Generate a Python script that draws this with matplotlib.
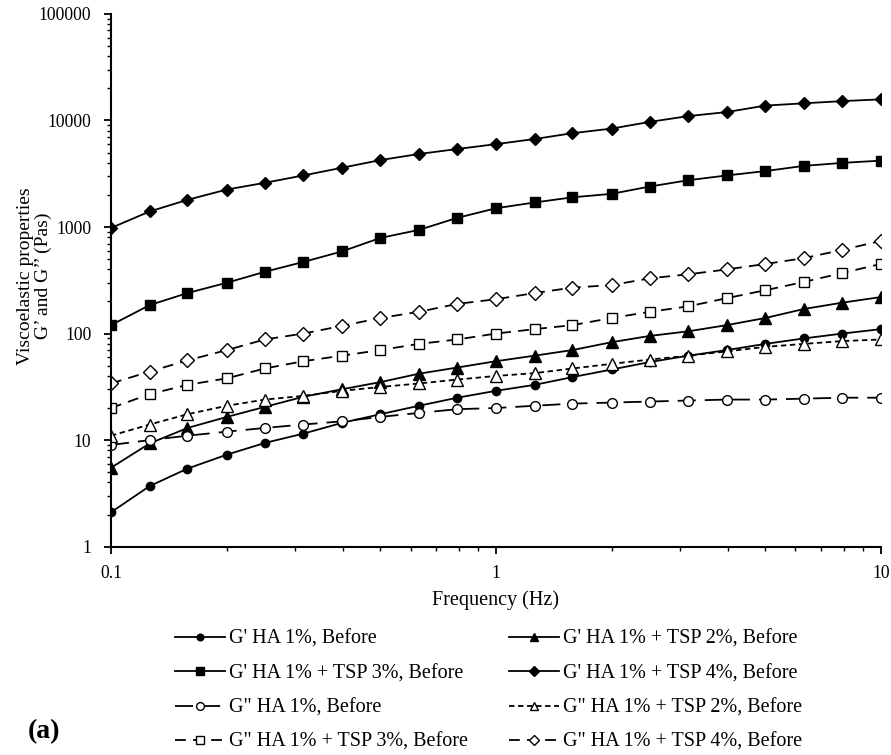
import numpy as np
import matplotlib
matplotlib.use("Agg")
import matplotlib.pyplot as plt
from matplotlib.ticker import LogLocator, FixedLocator, FixedFormatter, NullFormatter

plt.rcParams['font.family'] = ['Liberation Serif', 'DejaVu Serif']

# frequency (Hz)
freq = [0.1, 0.126, 0.158, 0.2, 0.251, 0.316, 0.398, 0.501, 0.631, 0.794,
        1.0, 1.26, 1.58, 2.0, 2.51, 3.16, 3.98, 5.01, 6.31, 7.94, 10.0]

# storage modulus G'
gp_ha1 = [2.1, 3.7, 5.4, 7.3, 9.4, 11.5, 14.5, 17.5, 21, 25,
          29, 33, 39, 46, 54, 62, 70, 80, 90, 100, 110]
gp_tsp2 = [5.5, 9.3, 13, 16.5, 20.5, 25.5, 30, 35, 42, 48,
           55, 62, 70, 83, 95, 105, 120, 140, 170, 195, 220]
gp_tsp3 = [120, 185, 240, 300, 380, 470, 590, 790, 940, 1220,
           1500, 1700, 1900, 2050, 2400, 2750, 3050, 3350, 3750, 4000, 4200]
gp_tsp4 = [980, 1400, 1800, 2250, 2600, 3050, 3600, 4250, 4850, 5400,
           6000, 6700, 7600, 8400, 9700, 11000, 12000, 13800, 14500, 15200, 15800]

# loss modulus G"
gpp_ha1 = [9, 10, 11, 12, 13, 14, 15, 16.5, 18, 19.5,
           20, 21, 22, 22.5, 23, 23.5, 24, 24, 24.5, 25, 25]
gpp_tsp2 = [11, 14, 17.5, 21, 24, 26, 29, 31.5, 34, 37,
            40, 42.5, 47, 52, 57, 62, 68, 75, 80, 85, 88]
gpp_tsp3 = [20, 27, 33, 38, 47, 55, 62, 70, 80, 88,
            100, 110, 120, 140, 160, 180, 215, 255, 305, 370, 450]
gpp_tsp4 = [34, 44, 56, 70, 88, 100, 118, 140, 160, 190,
            210, 240, 270, 285, 330, 360, 400, 450, 510, 610, 740]

fig = plt.figure(figsize=(8.91, 7.55), dpi=100)
ax = fig.add_axes([0.1246, 0.276, 0.864, 0.7055])

k = dict(color='black', lw=1.3)
l1, = ax.plot(freq, gp_ha1, marker='o', ms=6, mfc='black', ls='-', label="G' HA 1%, Before", **k)
l2, = ax.plot(freq, gp_tsp2, marker='^', ms=8, mfc='black', ls='-', label="G' HA 1% + TSP 2%, Before", **k)
l3, = ax.plot(freq, gp_tsp3, marker='s', ms=7, mfc='black', ls='-', label="G' HA 1% + TSP 3%, Before", **k)
l4, = ax.plot(freq, gp_tsp4, marker='D', ms=6.5, mfc='black', ls='-', label="G' HA 1% + TSP 4%, Before", **k)
l5, = ax.plot(freq, gpp_ha1, marker='o', ms=7, mfc='white', ls=(0, (10, 5)), label='G" HA 1%, Before', **k)
l6, = ax.plot(freq, gpp_tsp2, marker='^', ms=8, mfc='white', ls=(0, (3, 2)), label='G" HA 1% + TSP 2%, Before', **k)
l7, = ax.plot(freq, gpp_tsp3, marker='s', ms=7, mfc='white', ls=(0, (6, 4)), label='G" HA 1% + TSP 3%, Before', **k)
l8, = ax.plot(freq, gpp_tsp4, marker='D', ms=7, mfc='white', ls=(0, (6, 4)), label='G" HA 1% + TSP 4%, Before', **k)

ax.set_xscale('log')
ax.set_yscale('log')
ax.set_xlim(0.1, 10)
ax.set_ylim(1, 100000)

ax.xaxis.set_major_locator(FixedLocator([0.1, 1, 10]))
ax.xaxis.set_major_formatter(FixedFormatter(['0.1', '1', '10']))
ax.xaxis.set_minor_locator(LogLocator(base=10, subs=np.arange(2, 10)))
ax.xaxis.set_minor_formatter(NullFormatter())
yt = [1, 10, 100, 1000, 10000, 100000]
ax.yaxis.set_major_locator(FixedLocator(yt))
ax.yaxis.set_major_formatter(FixedFormatter([str(v) for v in yt]))
ax.yaxis.set_minor_locator(LogLocator(base=10, subs=np.arange(2, 10)))
ax.yaxis.set_minor_formatter(NullFormatter())

for s in ['top', 'right']:
    ax.spines[s].set_visible(False)
for s in ['left', 'bottom']:
    ax.spines[s].set_linewidth(1.5)
ax.tick_params(which='major', direction='out', length=5, width=1.3, labelsize=12.7)
ax.tick_params(which='minor', direction='out', length=3, width=1.0)
ax.tick_params(axis='x', which='major', pad=8)
ax.tick_params(axis='y', which='major', pad=9)

ax.set_xlabel('Frequency (Hz)', fontsize=14.5, labelpad=6)
ax.set_ylabel('Viscoelastic properties\nG\u2019 and G\u2019\u2019 (Pas)', fontsize=14,
              linespacing=1.0)
ax.yaxis.set_label_coords(-0.077, 0.508)

handles = [l1, l3, l5, l7, l2, l4, l6, l8]
fig.legend(handles=handles, labels=[h.get_label() for h in handles], ncol=2,
           loc='upper left', bbox_to_anchor=(0.176, 0.19), frameon=False,
           fontsize=14.5, handlelength=2.5, handletextpad=0.2, columnspacing=2.0,
           labelspacing=0.76, markerscale=0.8)

fig.text(0.031, 0.022, '(a)', fontsize=20, fontweight='bold')

fig.savefig('out.png', dpi=100)
